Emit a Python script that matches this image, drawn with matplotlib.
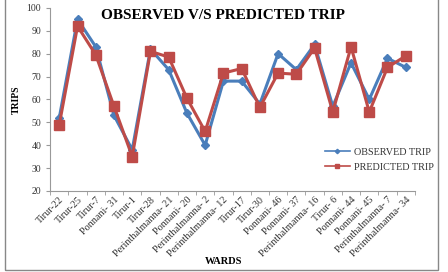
import numpy as np
import matplotlib; matplotlib.use("Agg")
import matplotlib.pyplot as plt
from matplotlib.patches import Rectangle

wards = ["Tirur-22", "Tirur-25", "Tirur-7", "Ponnani- 31", "Tirur-1", "Tirur-28",
         "Perinthalmanna- 21", "Ponnani- 20", "Perinthalmanna- 2", "Perinthalmanna- 12",
         "Tirur-17", "Tirur-30", "Ponnani- 46", "Ponnani- 37", "Perinthalmanna- 16",
         "Tirur- 6", "Ponnani- 44", "Ponnani- 45", "Perinthalmanna- 7", "Perinthalmanna- 34"]
observed = [52, 95, 83, 53, 38, 82, 73, 54, 40, 68, 68, 58, 80, 73, 84, 57, 76, 60, 78, 74]
predicted = [49, 92, 79.5, 57, 35, 81, 78.5, 60.5, 46, 71.5, 73.5, 56.5, 71.5, 71, 82.5,
             54.5, 83, 54.5, 74, 79]

plt.rcParams["font.family"] = ["Liberation Serif", "DejaVu Serif"]
BLUE, RED = "#4a7ebb", "#be4b48"

fig = plt.figure(figsize=(4.48, 2.72), dpi=100)
ax = fig.add_axes([0.112, 0.298, 0.814, 0.673])
x = np.arange(len(wards))
ax.plot(x, observed, "-D", color=BLUE, lw=2.2, ms=4.5, label="OBSERVED TRIP")
ax.plot(x, predicted, "-s", color=RED, lw=2.2, ms=6.5, label="PREDICTED TRIP")

ax.set_xlim(-0.5, len(wards) - 0.5)
ax.set_ylim(20, 100)
ax.set_yticks(range(20, 101, 10))
ax.set_xticks(x)
ax.set_xticklabels(wards, rotation=45, ha="right", rotation_mode="anchor", fontsize=7.3, color="#333333")
ax.set_xticks(np.arange(-0.5, len(wards)), minor=True)
ax.tick_params(axis="x", which="major", length=0, pad=3)
ax.tick_params(axis="x", which="minor", length=3, color="#999999", direction="out")
ax.tick_params(axis="y", labelsize=7, length=3, color="#999999", labelcolor="#333333")
for s in ["top", "right"]:
    ax.spines[s].set_visible(False)
for s in ["left", "bottom"]:
    ax.spines[s].set_color("#999999")
ax.set_ylabel("TRIPS", fontsize=7, fontweight="bold", labelpad=4)
fig.text(0.5, 0.028, "WARDS", ha="center", fontsize=7.5, fontweight="bold")
fig.text(0.497, 0.93, "OBSERVED V/S PREDICTED TRIP", ha="center", fontsize=11, fontweight="bold")

handles, labels = ax.get_legend_handles_labels()
leg = ax.legend(handles, labels, loc="center left", bbox_to_anchor=(0.732, 0.17), frameon=False,
                fontsize=7.3, handlelength=2.4, markerscale=0.5, labelspacing=0.6,
                handletextpad=0.4, borderpad=0.3)
for h in leg.get_lines():
    h.set_linewidth(1.2)
for t in leg.get_texts():
    t.set_color("#333333")

fig.patches.append(Rectangle((0.011, 0.007), 0.967, 1.0, transform=fig.transFigure,
                             fill=False, edgecolor="#888888", lw=1))
fig.savefig("out.png", dpi=100)
